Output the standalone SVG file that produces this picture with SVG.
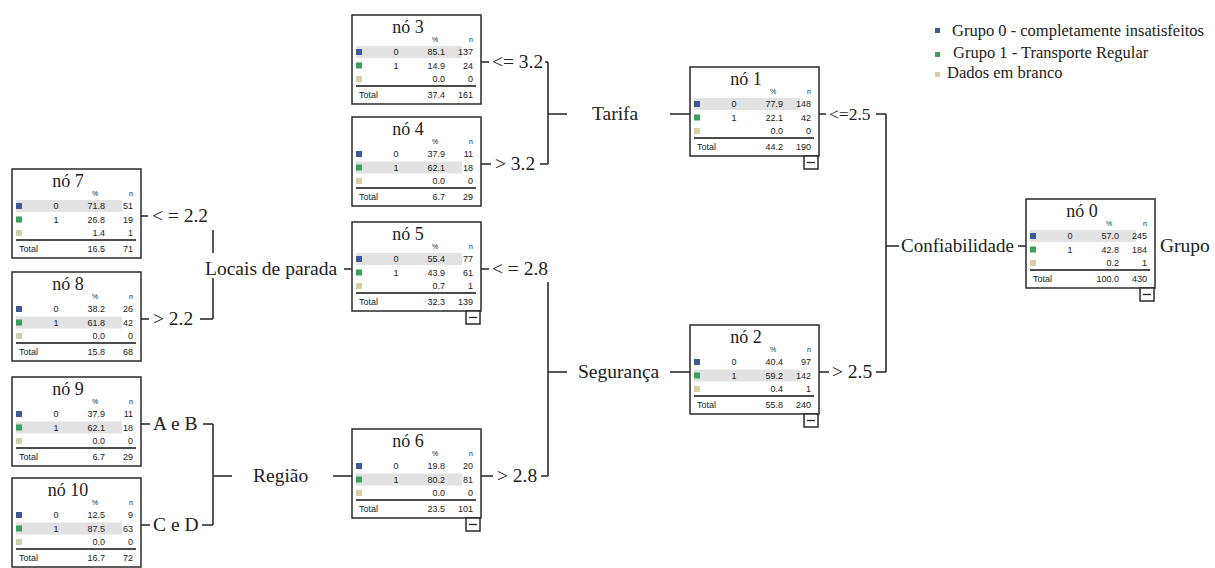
<svg xmlns="http://www.w3.org/2000/svg" width="1215" height="568" viewBox="0 0 1215 568">
<style>
.bg{fill:#fff}
.box{fill:#fff;stroke:#2a2a2a;stroke-width:1.5}
.ttl{font-family:"Liberation Serif",serif;font-size:18px;fill:#222;text-anchor:middle}
.hd{font-family:"Liberation Sans",sans-serif;font-size:7px;fill:#222;text-anchor:middle}
.v{font-family:"Liberation Sans",sans-serif;font-size:9px;fill:#222}
.r{text-anchor:end}
.c{text-anchor:middle}
.hl{fill:#e2e2e2}
.s0{fill:#3c5a96}
.s1{fill:#3aa05a}
.s2{fill:#d6cfa6}
.sep{stroke:#111;stroke-width:1.5}
.mn{stroke:#222;stroke-width:1.3}
.lbl{font-family:"Liberation Serif",serif;font-size:19.5px;fill:#222}
.sm{font-size:17.5px}
.leg{font-family:"Liberation Serif",serif;font-size:16.5px;fill:#222}
.cn{stroke:#222;stroke-width:1.5;fill:none}
</style>
<rect class="bg" x="0" y="0" width="1215" height="568"/>

<g id="legend">
<rect class="s0" x="935" y="28" width="5" height="5"/>
<text class="leg" x="952" y="36">Grupo 0 - completamente insatisfeitos</text>
<rect class="s1" x="935" y="52" width="5" height="5"/>
<text class="leg" x="953" y="58">Grupo 1 - Transporte Regular</text>
<rect class="s2" x="935" y="72" width="5" height="5"/>
<text class="leg" x="947" y="78">Dados em branco</text>
</g>

<g id="connectors">
<path class="cn" d="M1018 246H1026M886 246H899M886 114V372M876 114H886M876 372H886M817 114H826M817 372H829"/>
<path class="cn" d="M670 114H690M548 114H567M548 62V164M545 62H548M540 164H548M481 62H489M481 164H491"/>
<path class="cn" d="M670 372H690M548 372H567M548 282V476M541 476H548M481 269H489M481 476H493"/>
<path class="cn" d="M344 269H352M213 230V253M213 278V319M200 319H213M141 216H148M141 319H149"/>
<path class="cn" d="M333 476H352M213 476H232M213 424V525M203 424H213M202 525H213M141 424H150M141 525H150"/>
<text class="lbl" x="901" y="252" textLength="113" lengthAdjust="spacingAndGlyphs">Confiabilidade</text>
<text class="lbl" x="1160" y="252">Grupo</text>
<text class="lbl sm" x="829" y="120">&lt;=2.5</text>
<text class="lbl" x="832" y="378">&gt; 2.5</text>
<text class="lbl" x="592" y="120">Tarifa</text>
<text class="lbl" x="578" y="378">Segurança</text>
<text class="lbl" x="492" y="68">&lt;= 3.2</text>
<text class="lbl" x="495" y="170">&gt; 3.2</text>
<text class="lbl" x="492" y="275">&lt; = 2.8</text>
<text class="lbl" x="497" y="482">&gt; 2.8</text>
<text class="lbl" x="205" y="275">Locais de parada</text>
<text class="lbl" x="152" y="222">&lt; = 2.2</text>
<text class="lbl" x="153" y="325">&gt; 2.2</text>
<text class="lbl" x="253" y="482">Região</text>
<text class="lbl" x="153" y="430">A e B</text>
<text class="lbl" x="153" y="531">C e D</text>
</g>

<g id="node0" transform="translate(1026,199)">
<rect class="box" x="0" y="0" width="129" height="89"/>
<text class="ttl" x="56" y="18">nó 0</text>
<text class="hd" x="83" y="27">%</text><text class="hd" x="119" y="27">n</text>
<rect class="hl" x="4" y="31" width="106" height="12"/>
<rect class="s0" x="4" y="34" width="6" height="6"/><rect class="s1" x="4" y="47.5" width="6" height="6"/><rect class="s2" x="4" y="61" width="6" height="6"/>
<text class="v c" x="44" y="40">0</text><text class="v r" x="93" y="40">57.0</text><text class="v r" x="121" y="40">245</text>
<text class="v c" x="44" y="53.5">1</text><text class="v r" x="93" y="53.5">42.8</text><text class="v r" x="121" y="53.5">184</text>
<text class="v r" x="93" y="67">0.2</text><text class="v r" x="121" y="67">1</text>
<line class="sep" x1="4" y1="71" x2="124" y2="71"/>
<text class="v" x="7" y="83">Total</text><text class="v r" x="93" y="83">100.0</text><text class="v r" x="121" y="83">430</text>
<rect class="box" x="114" y="89" width="14" height="13"/><line class="mn" x1="117" y1="95.5" x2="125" y2="95.5"/>
</g>

<g id="node1" transform="translate(690,67)">
<rect class="box" x="0" y="0" width="129" height="89"/>
<text class="ttl" x="56" y="18">nó 1</text>
<text class="hd" x="83" y="27">%</text><text class="hd" x="119" y="27">n</text>
<rect class="hl" x="4" y="31" width="106" height="12"/>
<rect class="s0" x="4" y="34" width="6" height="6"/><rect class="s1" x="4" y="47.5" width="6" height="6"/><rect class="s2" x="4" y="61" width="6" height="6"/>
<text class="v c" x="44" y="40">0</text><text class="v r" x="93" y="40">77.9</text><text class="v r" x="121" y="40">148</text>
<text class="v c" x="44" y="53.5">1</text><text class="v r" x="93" y="53.5">22.1</text><text class="v r" x="121" y="53.5">42</text>
<text class="v r" x="93" y="67">0.0</text><text class="v r" x="121" y="67">0</text>
<line class="sep" x1="4" y1="71" x2="124" y2="71"/>
<text class="v" x="7" y="83">Total</text><text class="v r" x="93" y="83">44.2</text><text class="v r" x="121" y="83">190</text>
<rect class="box" x="114" y="89" width="14" height="13"/><line class="mn" x1="117" y1="95.5" x2="125" y2="95.5"/>
</g>

<g id="node2" transform="translate(690,325)">
<rect class="box" x="0" y="0" width="129" height="89"/>
<text class="ttl" x="56" y="18">nó 2</text>
<text class="hd" x="83" y="27">%</text><text class="hd" x="119" y="27">n</text>
<rect class="hl" x="4" y="44.5" width="106" height="12"/>
<rect class="s0" x="4" y="34" width="6" height="6"/><rect class="s1" x="4" y="47.5" width="6" height="6"/><rect class="s2" x="4" y="61" width="6" height="6"/>
<text class="v c" x="44" y="40">0</text><text class="v r" x="93" y="40">40.4</text><text class="v r" x="121" y="40">97</text>
<text class="v c" x="44" y="53.5">1</text><text class="v r" x="93" y="53.5">59.2</text><text class="v r" x="121" y="53.5">142</text>
<text class="v r" x="93" y="67">0.4</text><text class="v r" x="121" y="67">1</text>
<line class="sep" x1="4" y1="71" x2="124" y2="71"/>
<text class="v" x="7" y="83">Total</text><text class="v r" x="93" y="83">55.8</text><text class="v r" x="121" y="83">240</text>
<rect class="box" x="114" y="89" width="14" height="13"/><line class="mn" x1="117" y1="95.5" x2="125" y2="95.5"/>
</g>

<g id="node3" transform="translate(352,15)">
<rect class="box" x="0" y="0" width="129" height="89"/>
<text class="ttl" x="56" y="18">nó 3</text>
<text class="hd" x="83" y="27">%</text><text class="hd" x="119" y="27">n</text>
<rect class="hl" x="4" y="31" width="106" height="12"/>
<rect class="s0" x="4" y="34" width="6" height="6"/><rect class="s1" x="4" y="47.5" width="6" height="6"/><rect class="s2" x="4" y="61" width="6" height="6"/>
<text class="v c" x="44" y="40">0</text><text class="v r" x="93" y="40">85.1</text><text class="v r" x="121" y="40">137</text>
<text class="v c" x="44" y="53.5">1</text><text class="v r" x="93" y="53.5">14.9</text><text class="v r" x="121" y="53.5">24</text>
<text class="v r" x="93" y="67">0.0</text><text class="v r" x="121" y="67">0</text>
<line class="sep" x1="4" y1="71" x2="124" y2="71"/>
<text class="v" x="7" y="83">Total</text><text class="v r" x="93" y="83">37.4</text><text class="v r" x="121" y="83">161</text>
</g>

<g id="node4" transform="translate(352,117)">
<rect class="box" x="0" y="0" width="129" height="89"/>
<text class="ttl" x="56" y="18">nó 4</text>
<text class="hd" x="83" y="27">%</text><text class="hd" x="119" y="27">n</text>
<rect class="hl" x="4" y="44.5" width="106" height="12"/>
<rect class="s0" x="4" y="34" width="6" height="6"/><rect class="s1" x="4" y="47.5" width="6" height="6"/><rect class="s2" x="4" y="61" width="6" height="6"/>
<text class="v c" x="44" y="40">0</text><text class="v r" x="93" y="40">37.9</text><text class="v r" x="121" y="40">11</text>
<text class="v c" x="44" y="53.5">1</text><text class="v r" x="93" y="53.5">62.1</text><text class="v r" x="121" y="53.5">18</text>
<text class="v r" x="93" y="67">0.0</text><text class="v r" x="121" y="67">0</text>
<line class="sep" x1="4" y1="71" x2="124" y2="71"/>
<text class="v" x="7" y="83">Total</text><text class="v r" x="93" y="83">6.7</text><text class="v r" x="121" y="83">29</text>
</g>

<g id="node5" transform="translate(352,222)">
<rect class="box" x="0" y="0" width="129" height="89"/>
<text class="ttl" x="56" y="18">nó 5</text>
<text class="hd" x="83" y="27">%</text><text class="hd" x="119" y="27">n</text>
<rect class="hl" x="4" y="31" width="106" height="12"/>
<rect class="s0" x="4" y="34" width="6" height="6"/><rect class="s1" x="4" y="47.5" width="6" height="6"/><rect class="s2" x="4" y="61" width="6" height="6"/>
<text class="v c" x="44" y="40">0</text><text class="v r" x="93" y="40">55.4</text><text class="v r" x="121" y="40">77</text>
<text class="v c" x="44" y="53.5">1</text><text class="v r" x="93" y="53.5">43.9</text><text class="v r" x="121" y="53.5">61</text>
<text class="v r" x="93" y="67">0.7</text><text class="v r" x="121" y="67">1</text>
<line class="sep" x1="4" y1="71" x2="124" y2="71"/>
<text class="v" x="7" y="83">Total</text><text class="v r" x="93" y="83">32.3</text><text class="v r" x="121" y="83">139</text>
<rect class="box" x="114" y="89" width="14" height="13"/><line class="mn" x1="117" y1="95.5" x2="125" y2="95.5"/>
</g>

<g id="node6" transform="translate(352,429)">
<rect class="box" x="0" y="0" width="129" height="89"/>
<text class="ttl" x="56" y="18">nó 6</text>
<text class="hd" x="83" y="27">%</text><text class="hd" x="119" y="27">n</text>
<rect class="hl" x="4" y="44.5" width="106" height="12"/>
<rect class="s0" x="4" y="34" width="6" height="6"/><rect class="s1" x="4" y="47.5" width="6" height="6"/><rect class="s2" x="4" y="61" width="6" height="6"/>
<text class="v c" x="44" y="40">0</text><text class="v r" x="93" y="40">19.8</text><text class="v r" x="121" y="40">20</text>
<text class="v c" x="44" y="53.5">1</text><text class="v r" x="93" y="53.5">80.2</text><text class="v r" x="121" y="53.5">81</text>
<text class="v r" x="93" y="67">0.0</text><text class="v r" x="121" y="67">0</text>
<line class="sep" x1="4" y1="71" x2="124" y2="71"/>
<text class="v" x="7" y="83">Total</text><text class="v r" x="93" y="83">23.5</text><text class="v r" x="121" y="83">101</text>
<rect class="box" x="114" y="89" width="14" height="13"/><line class="mn" x1="117" y1="95.5" x2="125" y2="95.5"/>
</g>

<g id="node7" transform="translate(12,169)">
<rect class="box" x="0" y="0" width="129" height="89"/>
<text class="ttl" x="56" y="18">nó 7</text>
<text class="hd" x="83" y="27">%</text><text class="hd" x="119" y="27">n</text>
<rect class="hl" x="4" y="31" width="106" height="12"/>
<rect class="s0" x="4" y="34" width="6" height="6"/><rect class="s1" x="4" y="47.5" width="6" height="6"/><rect class="s2" x="4" y="61" width="6" height="6"/>
<text class="v c" x="44" y="40">0</text><text class="v r" x="93" y="40">71.8</text><text class="v r" x="121" y="40">51</text>
<text class="v c" x="44" y="53.5">1</text><text class="v r" x="93" y="53.5">26.8</text><text class="v r" x="121" y="53.5">19</text>
<text class="v r" x="93" y="67">1.4</text><text class="v r" x="121" y="67">1</text>
<line class="sep" x1="4" y1="71" x2="124" y2="71"/>
<text class="v" x="7" y="83">Total</text><text class="v r" x="93" y="83">16.5</text><text class="v r" x="121" y="83">71</text>
</g>

<g id="node8" transform="translate(12,272)">
<rect class="box" x="0" y="0" width="129" height="89"/>
<text class="ttl" x="56" y="18">nó 8</text>
<text class="hd" x="83" y="27">%</text><text class="hd" x="119" y="27">n</text>
<rect class="hl" x="4" y="44.5" width="106" height="12"/>
<rect class="s0" x="4" y="34" width="6" height="6"/><rect class="s1" x="4" y="47.5" width="6" height="6"/><rect class="s2" x="4" y="61" width="6" height="6"/>
<text class="v c" x="44" y="40">0</text><text class="v r" x="93" y="40">38.2</text><text class="v r" x="121" y="40">26</text>
<text class="v c" x="44" y="53.5">1</text><text class="v r" x="93" y="53.5">61.8</text><text class="v r" x="121" y="53.5">42</text>
<text class="v r" x="93" y="67">0.0</text><text class="v r" x="121" y="67">0</text>
<line class="sep" x1="4" y1="71" x2="124" y2="71"/>
<text class="v" x="7" y="83">Total</text><text class="v r" x="93" y="83">15.8</text><text class="v r" x="121" y="83">68</text>
</g>

<g id="node9" transform="translate(12,377)">
<rect class="box" x="0" y="0" width="129" height="89"/>
<text class="ttl" x="56" y="18">nó 9</text>
<text class="hd" x="83" y="27">%</text><text class="hd" x="119" y="27">n</text>
<rect class="hl" x="4" y="44.5" width="106" height="12"/>
<rect class="s0" x="4" y="34" width="6" height="6"/><rect class="s1" x="4" y="47.5" width="6" height="6"/><rect class="s2" x="4" y="61" width="6" height="6"/>
<text class="v c" x="44" y="40">0</text><text class="v r" x="93" y="40">37.9</text><text class="v r" x="121" y="40">11</text>
<text class="v c" x="44" y="53.5">1</text><text class="v r" x="93" y="53.5">62.1</text><text class="v r" x="121" y="53.5">18</text>
<text class="v r" x="93" y="67">0.0</text><text class="v r" x="121" y="67">0</text>
<line class="sep" x1="4" y1="71" x2="124" y2="71"/>
<text class="v" x="7" y="83">Total</text><text class="v r" x="93" y="83">6.7</text><text class="v r" x="121" y="83">29</text>
</g>

<g id="node10" transform="translate(12,478)">
<rect class="box" x="0" y="0" width="129" height="89"/>
<text class="ttl" x="56" y="18">nó 10</text>
<text class="hd" x="83" y="27">%</text><text class="hd" x="119" y="27">n</text>
<rect class="hl" x="4" y="44.5" width="106" height="12"/>
<rect class="s0" x="4" y="34" width="6" height="6"/><rect class="s1" x="4" y="47.5" width="6" height="6"/><rect class="s2" x="4" y="61" width="6" height="6"/>
<text class="v c" x="44" y="40">0</text><text class="v r" x="93" y="40">12.5</text><text class="v r" x="121" y="40">9</text>
<text class="v c" x="44" y="53.5">1</text><text class="v r" x="93" y="53.5">87.5</text><text class="v r" x="121" y="53.5">63</text>
<text class="v r" x="93" y="67">0.0</text><text class="v r" x="121" y="67">0</text>
<line class="sep" x1="4" y1="71" x2="124" y2="71"/>
<text class="v" x="7" y="83">Total</text><text class="v r" x="93" y="83">16.7</text><text class="v r" x="121" y="83">72</text>
</g>
</svg>
